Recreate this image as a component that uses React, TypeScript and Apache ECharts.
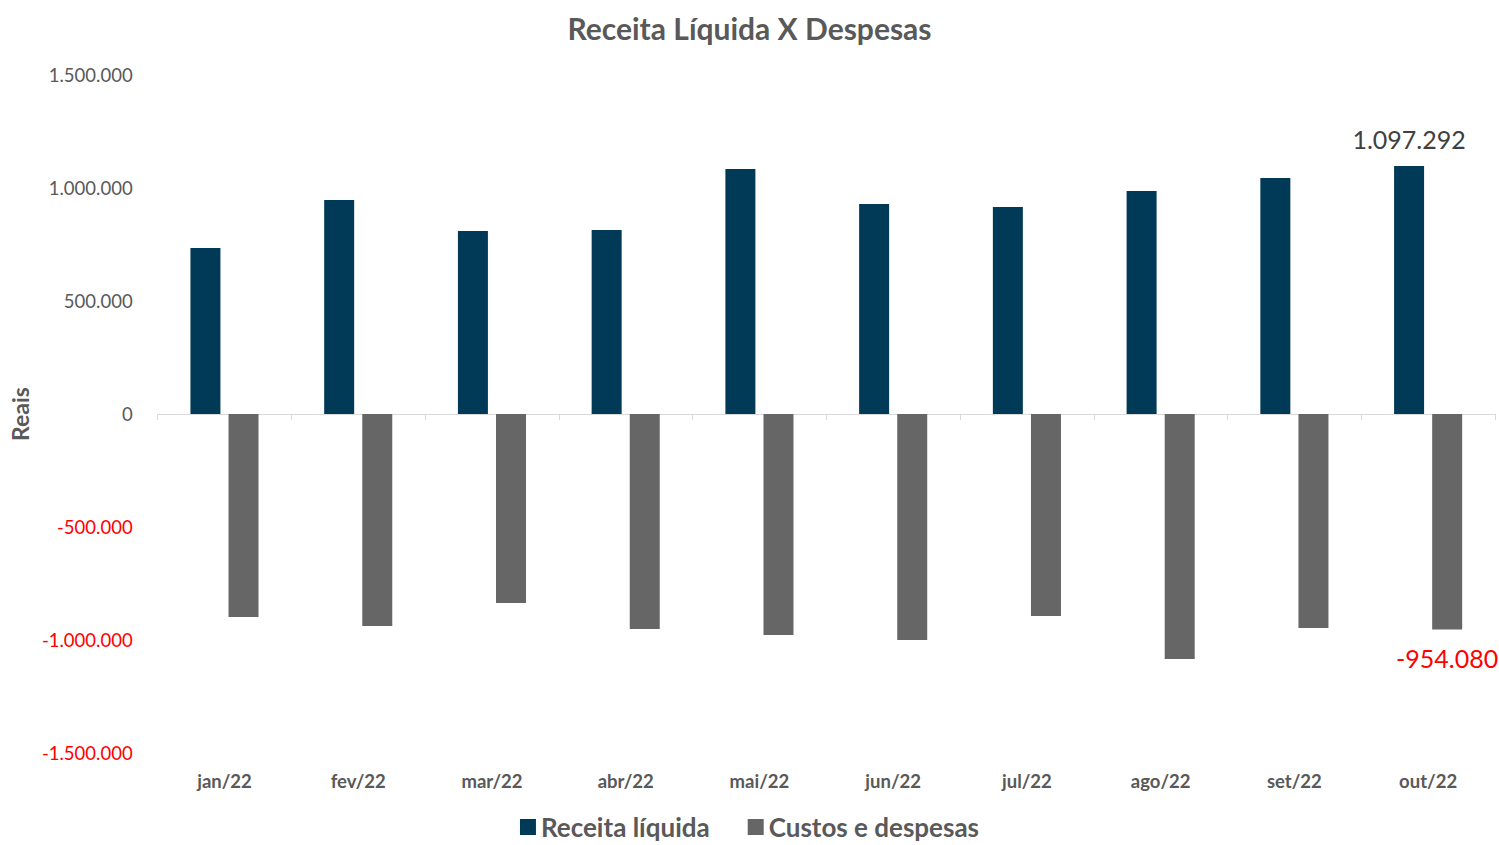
import React, { useEffect, useRef } from "react";
import * as echarts from "echarts";

const categories = ["jan/22", "fev/22", "mar/22", "abr/22", "mai/22", "jun/22", "jul/22", "ago/22", "set/22", "out/22"];
const receita = [735000, 947000, 810000, 814000, 1084000, 929000, 916000, 987000, 1044000, 1097292];
const custos = [-898000, -938000, -836000, -951000, -978000, -1000000, -894000, -1084000, -947000, -954080];
const seriesNames = ["Receita líquida", "Custos e despesas"];

const fmt = (v: number) => {
  const neg = v < 0;
  const s = Math.round(Math.abs(v)).toString().replace(/\B(?=(\d{3})+(?!\d))/g, ".");
  return (neg ? "-" : "") + s;
};

const FONT = "Lato, 'Open Sans', sans-serif";

export default function App() {
  const ref = useRef<HTMLDivElement>(null);
  useEffect(() => {
    if (!ref.current) return;
    const chart = echarts.init(ref.current, undefined, { renderer: "svg" });
    const last = categories.length - 1;
    chart.setOption({
      animation: false,
      textStyle: { fontFamily: FONT },
      title: {
        text: "Receita Líquida X Despesas",
        left: "center",
        top: 8,
        textStyle: { fontFamily: FONT, fontSize: 30, fontWeight: "bold", color: "#595959" },
      },
      legend: {
        bottom: 0,
        left: "center",
        itemWidth: 16,
        itemHeight: 16,
        itemGap: 38,
        icon: "rect",
        textStyle: { fontFamily: FONT, fontSize: 26, fontWeight: "bold", color: "#595959" },
        data: seriesNames,
      },
      grid: { left: 156, right: 4, top: 75, bottom: 92, containLabel: false },
      xAxis: [
        {
          type: "category",
          data: categories,
          position: "bottom",
          axisLine: { show: false, onZero: false },
          axisTick: { show: false },
          axisLabel: { fontFamily: FONT, fontSize: 18.5, fontWeight: "bold", color: "#595959", margin: 18 },
        },
        {
          type: "category",
          data: categories,
          position: "top",
          axisLine: { show: true, onZero: true, onZeroAxisIndex: 0, lineStyle: { color: "#d9d9d9", width: 1 } },
          axisTick: { show: true, inside: true, alignWithLabel: false, length: 6, lineStyle: { color: "#d9d9d9" } },
          axisLabel: { show: false },
        },
      ],
      yAxis: {
        type: "value",
        min: -1500000,
        max: 1500000,
        interval: 500000,
        name: "Reais",
        nameLocation: "middle",
        nameGap: 126,
        nameRotate: 90,
        nameTextStyle: { fontFamily: FONT, fontSize: 23, fontWeight: "bold", color: "#595959" },
        axisLine: { show: false },
        axisTick: { show: false },
        splitLine: { show: false },
        axisLabel: {
          fontFamily: FONT,
          fontSize: 18.5,
          margin: 25,
          formatter: (v: number) => fmt(v),
          color: (v: any) => (Number(v) < 0 ? "#ff0000" : "#595959"),
        },
      },
      series: [
        {
          name: seriesNames[0],
          type: "bar",
          xAxisIndex: 0,
          barWidth: 30,
          barGap: "27%",
          itemStyle: { color: "#003A57" },
          data: receita.map((v, i) =>
            i === last
              ? {
                  value: v,
                  label: {
                    show: true,
                    position: "top",
                    distance: 15,
                    formatter: (p: any) => fmt(p.value),
                    fontFamily: FONT,
                    fontSize: 25,
                    color: "#404040",
                  },
                }
              : v
          ),
        },
        {
          name: seriesNames[1],
          type: "bar",
          xAxisIndex: 0,
          barWidth: 30,
          itemStyle: { color: "#666666" },
          data: custos.map((v, i) =>
            i === last
              ? {
                  value: v,
                  label: {
                    show: true,
                    position: "bottom",
                    distance: 16,
                    formatter: (p: any) => fmt(p.value),
                    fontFamily: FONT,
                    fontSize: 25,
                    color: "#ff0000",
                  },
                }
              : v
          ),
        },
      ],
    });
    return () => chart.dispose();
  }, []);
  return <div ref={ref} style={{ width: 1499, height: 845, position: "absolute", left: 0, top: 0 }} />;
}
